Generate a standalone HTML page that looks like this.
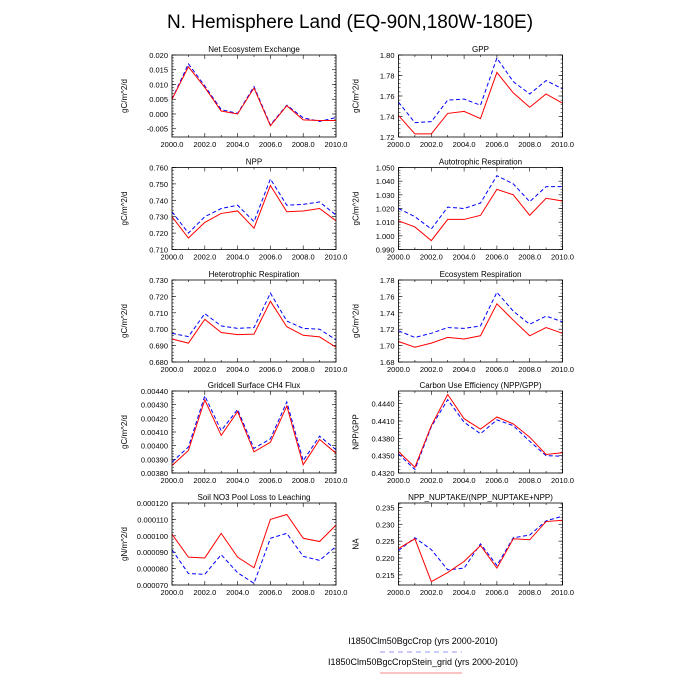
<!DOCTYPE html>
<html><head><meta charset="utf-8"><style>
html,body{margin:0;padding:0;background:#fff;}
svg{display:block;font-family:"Liberation Sans",Arial,sans-serif;}
</style></head><body>
<svg id="chart" width="700" height="700" viewBox="0 0 700 700">
<text x="350" y="28" text-anchor="middle" font-size="19">N. Hemisphere Land (EQ-90N,180W-180E)</text>
<g>
<text x="423" y="644" text-anchor="middle" font-size="9">I1850Clm50BgcCrop (yrs 2000-2010)</text>
<line x1="380" y1="652" x2="462" y2="652" stroke="#9a9af5" stroke-width="1" stroke-dasharray="5,4"/>
<text x="423" y="665" text-anchor="middle" font-size="9">I1850Clm50BgcCropStein_grid (yrs 2000-2010)</text>
<line x1="380" y1="673" x2="462" y2="673" stroke="#f58a8a" stroke-width="1"/>
</g>
</svg>
<script>
const years=[2000,2001,2002,2003,2004,2005,2006,2007,2008,2009,2010];
const xTickLabels=["2000.0","2002.0","2004.0","2006.0","2008.0","2010.0"];
const titles=["Net Ecosystem Exchange","GPP","NPP","Autotrophic Respiration","Heterotrophic Respiration","Ecosystem Respiration","Gridcell Surface CH4 Flux","Carbon Use Efficiency (NPP/GPP)","Soil NO3 Pool Loss to Leaching","NPP_NUPTAKE/(NPP_NUPTAKE+NPP)"];
const yLabels=["gC/m^2/d","gC/m^2/d","gC/m^2/d","gC/m^2/d","gC/m^2/d","gC/m^2/d","gC/m^2/d","NPP/GPP","gN/m^2/d","NA"];
const yMins=[-0.0078,1.72,0.71,0.99,0.68,1.68,0.0038,0.4320,0.00007,0.2120];
const yMaxs=[0.020,1.80,0.76,1.05,0.73,1.78,0.0044,0.4462,0.00012,0.2363];
const yTicks=[
[-0.005,0,0.005,0.010,0.015,0.020],[1.72,1.74,1.76,1.78,1.80],[0.71,0.72,0.73,0.74,0.75,0.76],
[0.99,1.0,1.01,1.02,1.03,1.04,1.05],[0.68,0.69,0.70,0.71,0.72,0.73],[1.68,1.70,1.72,1.74,1.76,1.78],
[0.0038,0.0039,0.004,0.0041,0.0042,0.0043,0.0044],[0.432,0.435,0.438,0.441,0.444],
[0.00007,0.00008,0.00009,0.0001,0.00011,0.00012],[0.215,0.22,0.225,0.23,0.235]];
const yDecimals=[3,2,3,3,3,2,5,4,6,3];
const cropSeries=[
[0.005,0.017,0.0095,0.0015,0.0002,0.0093,-0.0037,0.003,-0.0013,-0.0025,-0.0012],
[1.754,1.734,1.735,1.756,1.757,1.751,1.797,1.774,1.762,1.775,1.767],
[0.733,0.720,0.730,0.735,0.737,0.727,0.753,0.737,0.7375,0.739,0.731],
[1.020,1.014,1.005,1.021,1.020,1.024,1.044,1.038,1.025,1.036,1.036],
[0.6975,0.6955,0.7095,0.702,0.7005,0.701,0.722,0.705,0.7005,0.700,0.6935],
[1.718,1.710,1.715,1.722,1.721,1.724,1.765,1.742,1.726,1.736,1.729],
[0.00388,0.00399,0.004365,0.00411,0.004265,0.00398,0.00405,0.00432,0.00389,0.00407,0.00397],
[0.4353,0.4326,0.4400,0.4447,0.4408,0.4388,0.4412,0.4402,0.4375,0.4350,0.4349],
[0.0000915,0.000077,0.0000765,0.0000885,0.0000775,0.000071,0.0000985,0.0001015,0.0000875,0.000085,0.0000935],
[0.2222,0.2260,0.2225,0.2165,0.2170,0.2242,0.2178,0.2260,0.2268,0.2310,0.2324]];
const steinSeries=[
[0.005,0.016,0.009,0.001,0.0,0.0088,-0.004,0.0028,-0.002,-0.0022,-0.0022],
[1.741,1.723,1.723,1.743,1.745,1.738,1.783,1.763,1.749,1.762,1.753],
[0.730,0.717,0.7265,0.732,0.7335,0.723,0.749,0.733,0.7335,0.735,0.7275],
[1.011,1.0065,0.9965,1.012,1.012,1.015,1.034,1.030,1.015,1.0275,1.0255],
[0.694,0.6915,0.706,0.698,0.6967,0.697,0.717,0.7015,0.6963,0.6953,0.689],
[1.705,1.698,1.703,1.710,1.708,1.712,1.751,1.731,1.712,1.722,1.715],
[0.003855,0.003965,0.004335,0.004075,0.00425,0.003955,0.004025,0.00429,0.00386,0.004045,0.003945],
[0.4357,0.4330,0.4402,0.4456,0.4414,0.4396,0.4417,0.4405,0.4382,0.4352,0.4355],
[0.000101,0.000087,0.0000865,0.0001015,0.000087,0.0000805,0.00011,0.000113,0.0000985,0.0000965,0.0001065],
[0.2228,0.2257,0.2130,0.2157,0.2190,0.2237,0.2170,0.2257,0.2254,0.2308,0.2312]];

const NS="http://www.w3.org/2000/svg";
const svg=document.getElementById('chart');
function mk(tag,attrs,parent){const e=document.createElementNS(NS,tag);for(const k in attrs)e.setAttribute(k,attrs[k]);parent.appendChild(e);return e;}
const colX=[172,398.5], rowY=[55,167.5,280,391,503], PW=164, PH=82;
for(let i=0;i<10;i++){
  const x0=colX[i%2], y0=rowY[Math.floor(i/2)];
  const ymin=yMins[i], ymax=yMaxs[i];
  const sx=v=>x0+(v-2000)/10*PW;
  const sy=v=>y0+PH-(v-ymin)/(ymax-ymin)*PH;
  const g=mk('g',{},svg);
  
  
  const t=mk('text',{x:x0+PW/2,y:y0-3,'text-anchor':'middle','font-size':8},g);
  
  
  t.textContent=titles[i];
  const yl=mk('text',{x:0,y:0,'text-anchor':'middle','font-size':8,transform:`translate(${x0-(i%2?40:45)},${y0+PH/2}) rotate(-90)`},g);
  
  
  yl.textContent=yLabels[i];
  // x ticks
  years.forEach((yr,k)=>{
    const len=(k%2===0)?4:2, X=sx(yr);
    mk('line',{x1:X,y1:y0+PH,x2:X,y2:y0+PH-len,stroke:'#000','stroke-width':0.6},g);
    mk('line',{x1:X,y1:y0,x2:X,y2:y0+len,stroke:'#000','stroke-width':0.6},g);
  });
  xTickLabels.forEach(lb=>{
    const tx=mk('text',{x:sx(parseFloat(lb)),y:y0+PH+10,'text-anchor':'middle','font-size':7.5},g);
    
    
    tx.textContent=lb;
  });
  const tk=yTicks[i], step=tk[1]-tk[0];
  for(let m=tk[0]-step;m<=ymax+1e-12;m+=step/5){
    if(m<ymin-1e-12)continue;
    const Y=sy(m);
    mk('line',{x1:x0,y1:Y,x2:x0+2,y2:Y,stroke:'#000','stroke-width':0.5},g);
    mk('line',{x1:x0+PW,y1:Y,x2:x0+PW-2,y2:Y,stroke:'#000','stroke-width':0.5},g);
  }
  tk.forEach(v=>{
    const Y=sy(v);
    mk('line',{x1:x0,y1:Y,x2:x0+4,y2:Y,stroke:'#000','stroke-width':0.6},g);
    mk('line',{x1:x0+PW,y1:Y,x2:x0+PW-4,y2:Y,stroke:'#000','stroke-width':0.6},g);
    const ty=mk('text',{x:x0-4,y:Y+3,'text-anchor':'end','font-size':7.5},g);
    
    
    ty.textContent=v.toFixed(yDecimals[i]);
  });
  const b=cropSeries[i].map((v,k)=>sx(years[k])+','+sy(v)).join(' ');
  const pb=mk('polyline',{points:b,fill:'none',stroke:'#0000ff','stroke-width':1,'stroke-dasharray':'4,2.5'},g);
  
  
  const r=steinSeries[i].map((v,k)=>sx(years[k])+','+sy(v)).join(' ');
  const pr=mk('polyline',{points:r,fill:'none',stroke:'#ff0000','stroke-width':1},g);
  
  
  mk('rect',{x:x0,y:y0,width:PW,height:PH,fill:'none',stroke:'#000','stroke-width':0.8},g);
}
</script>
</body></html>
